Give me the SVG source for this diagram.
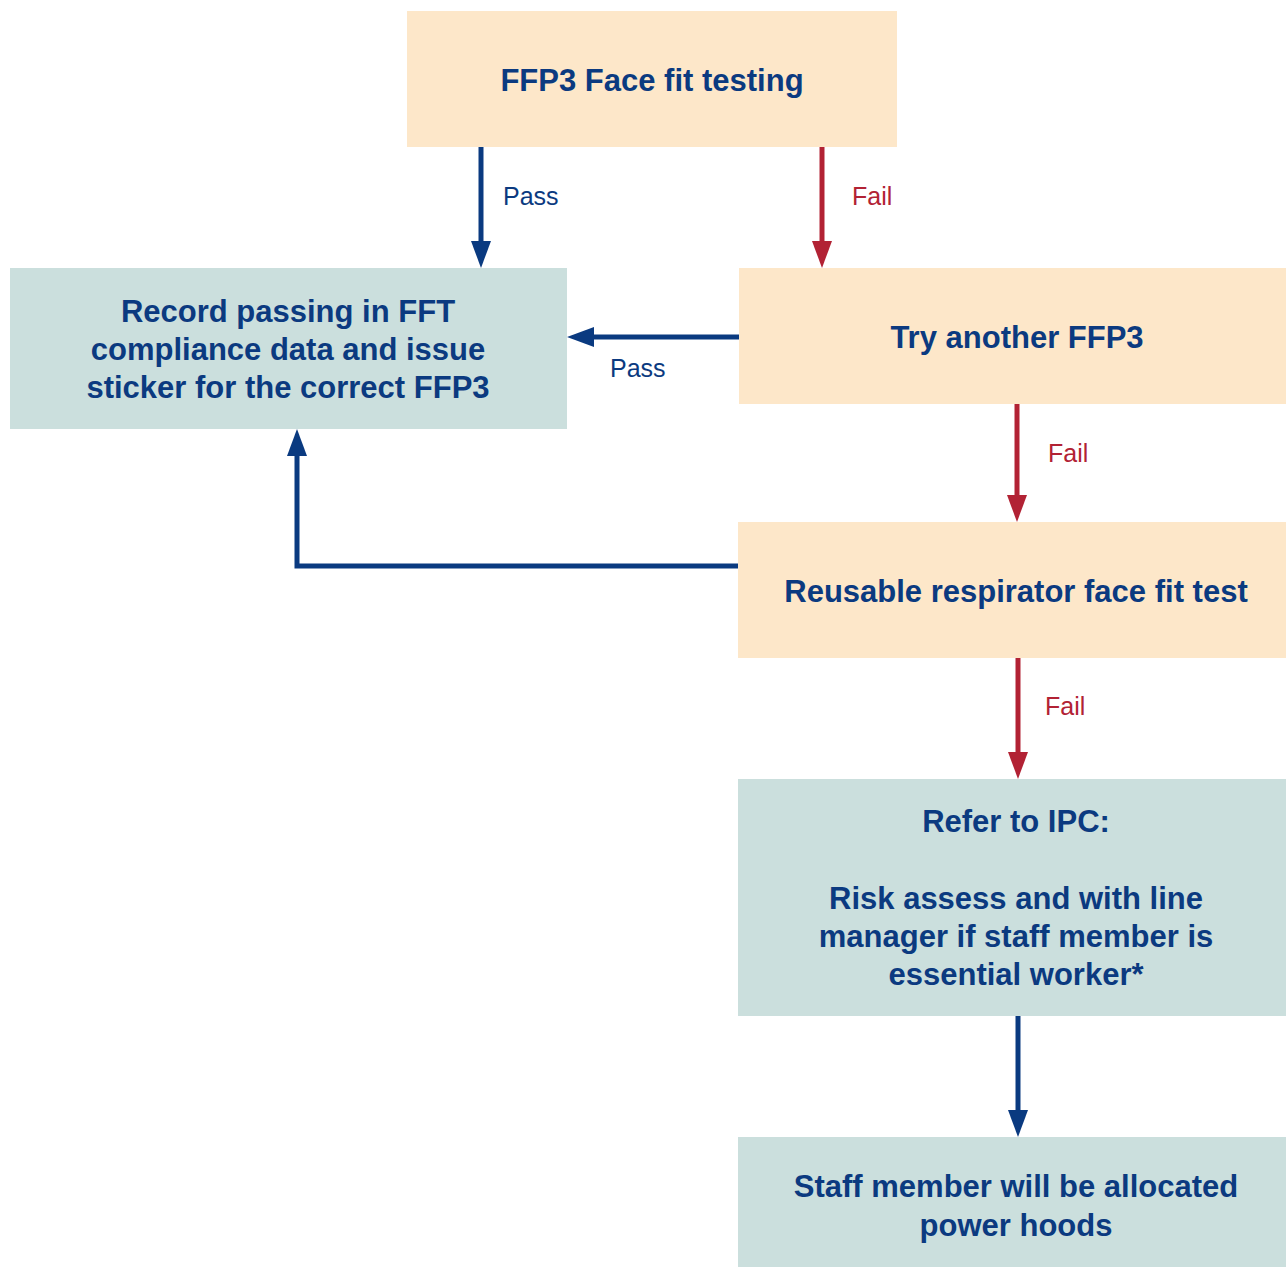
<svg xmlns="http://www.w3.org/2000/svg" width="1286" height="1267" viewBox="0 0 1286 1267">
<style>
.peach{fill:#fde7c9}
.teal{fill:#cbdfdd}
.t{font-family:"Liberation Sans",Arial,sans-serif;font-weight:bold;font-size:31px;fill:#0b3a80;text-anchor:middle}
.lb{font-family:"Liberation Sans",Arial,sans-serif;font-size:25px}
.blue{stroke:#0a3a80;stroke-width:5;fill:none}
.red{stroke:#b22234;stroke-width:5;fill:none}
</style>
<defs>
<marker id="ab" markerUnits="userSpaceOnUse" markerWidth="28" markerHeight="22" refX="2" refY="10" orient="auto" viewBox="0 0 28 20">
<path d="M0,0 L27,10 L0,20 z" fill="#0a3a80"/>
</marker>
<marker id="ar" markerUnits="userSpaceOnUse" markerWidth="28" markerHeight="22" refX="2" refY="10" orient="auto" viewBox="0 0 28 20">
<path d="M0,0 L27,10 L0,20 z" fill="#b22234"/>
</marker>
</defs>
<rect width="1286" height="1267" fill="#ffffff"/>
<g id="connectors">
<line class="blue" x1="481" y1="147" x2="481" y2="243" marker-end="url(#ab)"/>
<text class="lb" x="503" y="205" fill="#0b3a80">Pass</text>
<line class="red" x1="822" y1="147" x2="822" y2="243" marker-end="url(#ar)"/>
<text class="lb" x="852" y="205" fill="#b22234">Fail</text>
<line class="blue" x1="739" y1="337" x2="592" y2="337" marker-end="url(#ab)"/>
<text class="lb" x="610" y="377" fill="#0b3a80">Pass</text>
<line class="red" x1="1017" y1="404" x2="1017" y2="497" marker-end="url(#ar)"/>
<text class="lb" x="1048" y="462" fill="#b22234">Fail</text>
<polyline class="blue" points="738,566 297,566 297,454" marker-end="url(#ab)"/>
<line class="red" x1="1018" y1="658" x2="1018" y2="754" marker-end="url(#ar)"/>
<text class="lb" x="1045" y="715" fill="#b22234">Fail</text>
<line class="blue" x1="1018" y1="1016" x2="1018" y2="1112" marker-end="url(#ab)"/>
</g>
<g id="n1">
<rect class="peach" x="407" y="11" width="490" height="136"/>
<text class="t" x="652" y="91">FFP3 Face fit testing</text>
</g>
<g id="n2">
<rect class="teal" x="10" y="268" width="557" height="161"/>
<text class="t" x="288" y="322">Record passing in FFT</text>
<text class="t" x="288" y="360">compliance data and issue</text>
<text class="t" x="288" y="398">sticker for the correct FFP3</text>
</g>
<g id="n3">
<rect class="peach" x="739" y="268" width="547" height="136"/>
<text class="t" x="1017" y="348">Try another FFP3</text>
</g>
<g id="n4">
<rect class="peach" x="738" y="522" width="548" height="136"/>
<text class="t" x="1016" y="602">Reusable respirator face fit test</text>
</g>
<g id="n5">
<rect class="teal" x="738" y="779" width="548" height="237"/>
<text class="t" x="1016" y="832">Refer to IPC:</text>
<text class="t" x="1016" y="909">Risk assess and with line</text>
<text class="t" x="1016" y="947">manager if staff member is</text>
<text class="t" x="1016" y="985">essential worker*</text>
</g>
<g id="n6">
<rect class="teal" x="738" y="1137" width="548" height="130"/>
<text class="t" x="1016" y="1197">Staff member will be allocated</text>
<text class="t" x="1016" y="1236">power hoods</text>
</g>
</svg>
